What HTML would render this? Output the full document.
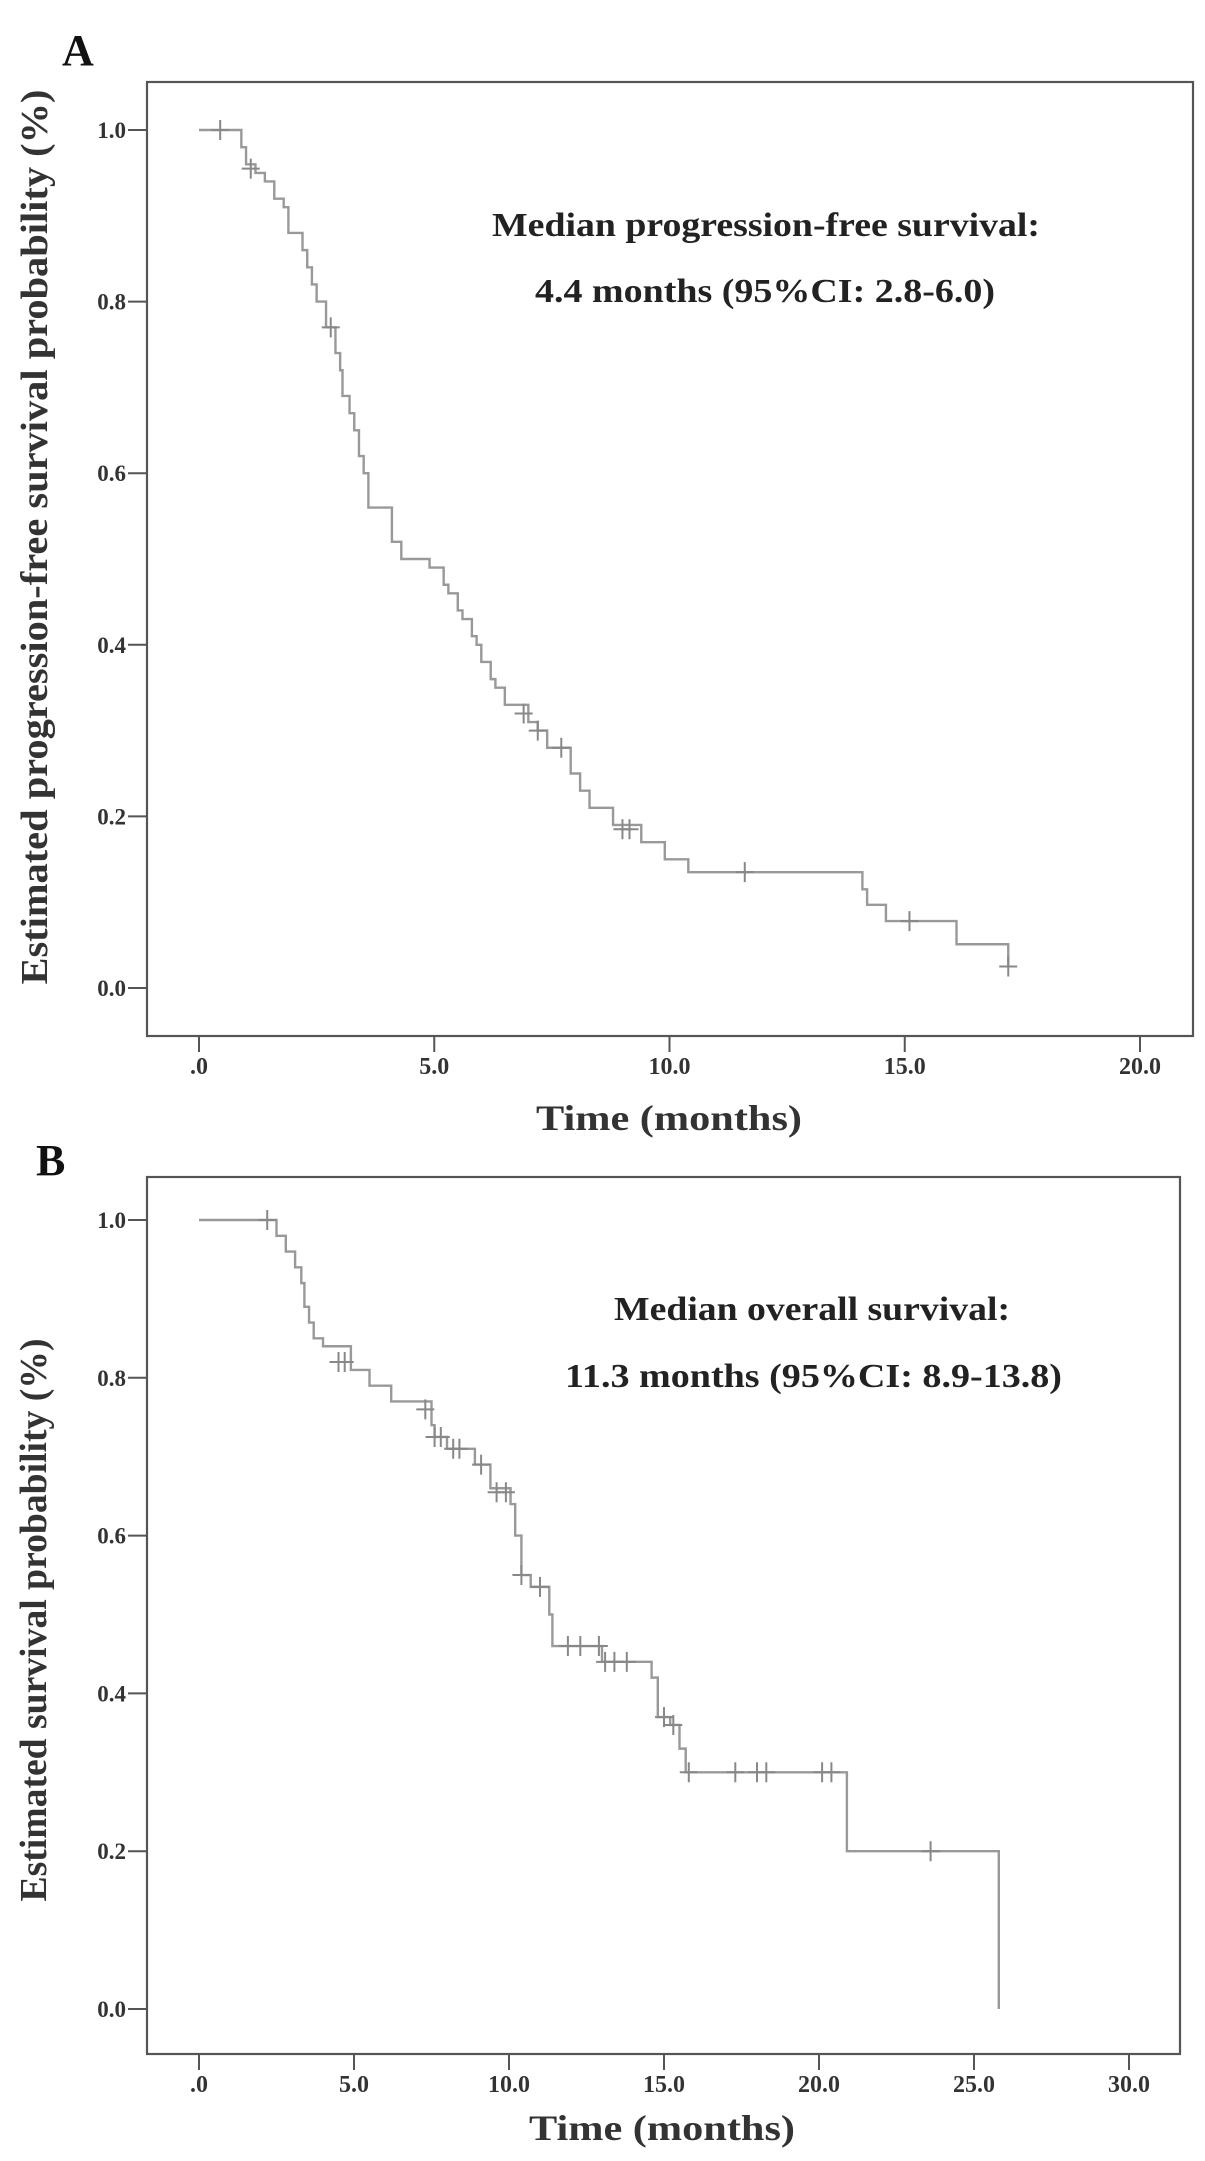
<!DOCTYPE html>
<html><head><meta charset="utf-8"><style>
html,body{margin:0;padding:0;background:#fff;}
svg{display:block;font-family:"Liberation Serif",serif;}
</style></head><body>
<svg id="fig" width="1205" height="2161" viewBox="0 0 1205 2161" xmlns="http://www.w3.org/2000/svg">
<g id="panelA"></g>
<g id="panelB"></g>
</svg>
<script>
// Panel A: progression-free survival
const stepTimesA = [0.9,1.0,1.2,1.4,1.6,1.8,1.9,2.2,2.3,2.4,2.5,2.7,2.9,3.0,3.05,3.2,3.3,3.4,3.5,3.6,4.1,4.3,4.9,5.2,5.3,5.5,5.6,5.8,5.9,6.0,6.2,6.3,6.5,7.0,7.2,7.4,7.9,8.1,8.3,8.8,9.4,9.9,10.4,14.1,14.2,14.6,16.1,17.2];
const stepSurvA  = [0.98,0.96,0.95,0.94,0.92,0.91,0.88,0.86,0.84,0.82,0.80,0.77,0.74,0.72,0.69,0.67,0.65,0.62,0.60,0.56,0.52,0.50,0.49,0.47,0.46,0.44,0.43,0.41,0.40,0.38,0.36,0.35,0.33,0.31,0.30,0.28,0.25,0.23,0.21,0.19,0.17,0.15,0.135,0.115,0.097,0.078,0.051,0.025];
const censorTimesA = [0.45,1.1,2.8,6.9,7.2,7.7,9.0,9.15,11.6,15.1,17.2];
const censorSurvA  = [1.0,0.955,0.77,0.32,0.30,0.28,0.185,0.185,0.135,0.078,0.025];
const xTicksA = [0,5,10,15,20];
const xTickLabelsA = [".0","5.0","10.0","15.0","20.0"];
const yTicks = [0,0.2,0.4,0.6,0.8,1.0];
const yTickLabels = ["0.0","0.2","0.4","0.6","0.8","1.0"];

// Panel B: overall survival
const stepTimesB = [2.5,2.8,3.1,3.3,3.4,3.55,3.7,4.0,4.9,5.5,6.2,7.5,7.6,8.0,8.9,9.4,10.05,10.2,10.4,10.7,11.3,11.4,13.0,14.6,14.8,15.2,15.5,15.7,20.9,25.8];
const stepSurvB  = [0.98,0.96,0.94,0.92,0.89,0.87,0.85,0.84,0.81,0.79,0.77,0.74,0.725,0.71,0.69,0.66,0.64,0.60,0.55,0.535,0.50,0.46,0.44,0.42,0.37,0.36,0.33,0.30,0.20,0.0];
const censorTimesB = [2.2,4.5,4.7,7.3,7.6,7.8,8.2,8.4,9.1,9.6,9.9,10.4,11.0,11.9,12.3,12.9,13.1,13.4,13.8,15.0,15.3,15.8,17.3,18.0,18.3,20.1,20.4,23.6];
const censorSurvB  = [1.0,0.82,0.82,0.76,0.725,0.725,0.71,0.71,0.69,0.655,0.655,0.55,0.535,0.46,0.46,0.46,0.44,0.44,0.44,0.37,0.36,0.30,0.30,0.30,0.30,0.30,0.30,0.20];
const xTicksB = [0,5,10,15,20,25,30];
const xTickLabelsB = [".0","5.0","10.0","15.0","20.0","25.0","30.0"];

const NS = "http://www.w3.org/2000/svg";
function mk(tag, attrs, parent){ const e=document.createElementNS(NS,tag); for(const k in attrs) e.setAttribute(k,attrs[k]); parent.appendChild(e); return e; }

function drawPanel(g, cfg){
  const xs = t => cfg.x0 + t*cfg.xpm;
  const ys = s => cfg.y0 - s*cfg.ypu;
  // box
  const box = mk('rect',{x:cfg.L,y:cfg.T,width:cfg.R-cfg.L,height:cfg.B-cfg.T,fill:'none',stroke:'#555','stroke-width':2.2},g);
  
  
  // panel letter
  const lt = mk('text',{x:cfg.letterX,y:cfg.letterY,'font-size':44,'font-weight':'bold',fill:'#111'},g);
  lt.textContent = cfg.letter;
  
  
  // y ticks
  yTicks.forEach((v,i)=>{
    const y = ys(v);
    const tk = mk('line',{x1:cfg.L-19,x2:cfg.L,y1:y,y2:y,stroke:'#555','stroke-width':2},g);
    
    
    const tl = mk('text',{x:cfg.L-21,y:y+8,'font-size':23,'font-weight':'bold','text-anchor':'end',fill:'#333'},g);
    tl.textContent = yTickLabels[i];
    
    
  });
  // x ticks
  cfg.xTicks.forEach((v,i)=>{
    const x = xs(v);
    const tk = mk('line',{x1:x,x2:x,y1:cfg.B,y2:cfg.B+16,stroke:'#555','stroke-width':2},g);
    
    
    const tl = mk('text',{x:x,y:cfg.B+38,'font-size':24,'font-weight':'bold','text-anchor':'middle',fill:'#333'},g);
    tl.textContent = cfg.xTickLabels[i];
    
    
  });
  // x title
  const xt = mk('text',{x:cfg.xTitleX,y:cfg.xTitleY,'font-size':36,'font-weight':'bold','text-anchor':'middle',fill:'#333',textLength:266,lengthAdjust:'spacingAndGlyphs'},g);
  xt.textContent = 'Time (months)';
  
  
  // y title
  const yt = mk('text',{x:0,y:0,'font-size':38,'font-weight':'bold','text-anchor':'middle',fill:'#333',textLength:cfg.yTitleLen,lengthAdjust:'spacingAndGlyphs',transform:`translate(${cfg.yTitleX},${cfg.yTitleY}) rotate(-90)`},g);
  yt.textContent = cfg.yTitle;
  
  
  // annotation
  cfg.notes.forEach(n=>{
    const t = mk('text',{x:n.x,y:n.y,'font-size':34,'font-weight':'bold',fill:'#222',textLength:n.len,lengthAdjust:'spacingAndGlyphs'},g);
    t.textContent = n.text;
    
    
  });
  // curve
  let d = `M${xs(0)},${ys(1)}`;
  let prev = 1;
  cfg.times.forEach((t,i)=>{
    d += ` H${xs(t)} V${ys(cfg.surv[i])}`;
    prev = cfg.surv[i];
  });
  if (prev > 0) d += ` H${xs(cfg.endT)}`;
  const p = mk('path',{d:d,fill:'none',stroke:'#999','stroke-width':2.4},g);
  
  
  // censor marks
  cfg.cTimes.forEach((t,i)=>{
    const x = xs(t), y = ys(cfg.cSurv[i]);
    const c = mk('path',{d:`M${x-9},${y} H${x+9} M${x},${y-10} V${y+10}`,stroke:'#888','stroke-width':2,fill:'none'},g);
    
    
  });
}

drawPanel(document.getElementById('panelA'),{
  L:147,T:82,R:1193,B:1036,x0:199,xpm:47.05,y0:988,ypu:858,
  letter:'A',letterX:62,letterY:65,
  xTicks:xTicksA,xTickLabels:xTickLabelsA,xTitleX:669,xTitleY:1130,
  yTitle:'Estimated progression-free survival probability (%)',yTitleX:47,yTitleY:537,yTitleLen:895,
  notes:[{x:492,y:236,len:548,text:'Median progression-free survival:'},{x:535,y:302,len:460,text:'4.4 months (95%CI: 2.8-6.0)'}],
  times:stepTimesA,surv:stepSurvA,endT:17.2,cTimes:censorTimesA,cSurv:censorSurvA
});
drawPanel(document.getElementById('panelB'),{
  L:147,T:1177,R:1180,B:2054,x0:199,xpm:31.0,y0:2009,ypu:789,
  letter:'B',letterX:36,letterY:1175,
  xTicks:xTicksB,xTickLabels:xTickLabelsB,xTitleX:662,xTitleY:2140,
  yTitle:'Estimated survival probability (%)',yTitleX:46,yTitleY:1620,yTitleLen:563,
  notes:[{x:614,y:1320,len:396,text:'Median overall survival:'},{x:565,y:1387,len:497,text:'11.3 months (95%CI: 8.9-13.8)'}],
  times:stepTimesB,surv:stepSurvB,endT:25.8,cTimes:censorTimesB,cSurv:censorSurvB
});
</script>
</body></html>
